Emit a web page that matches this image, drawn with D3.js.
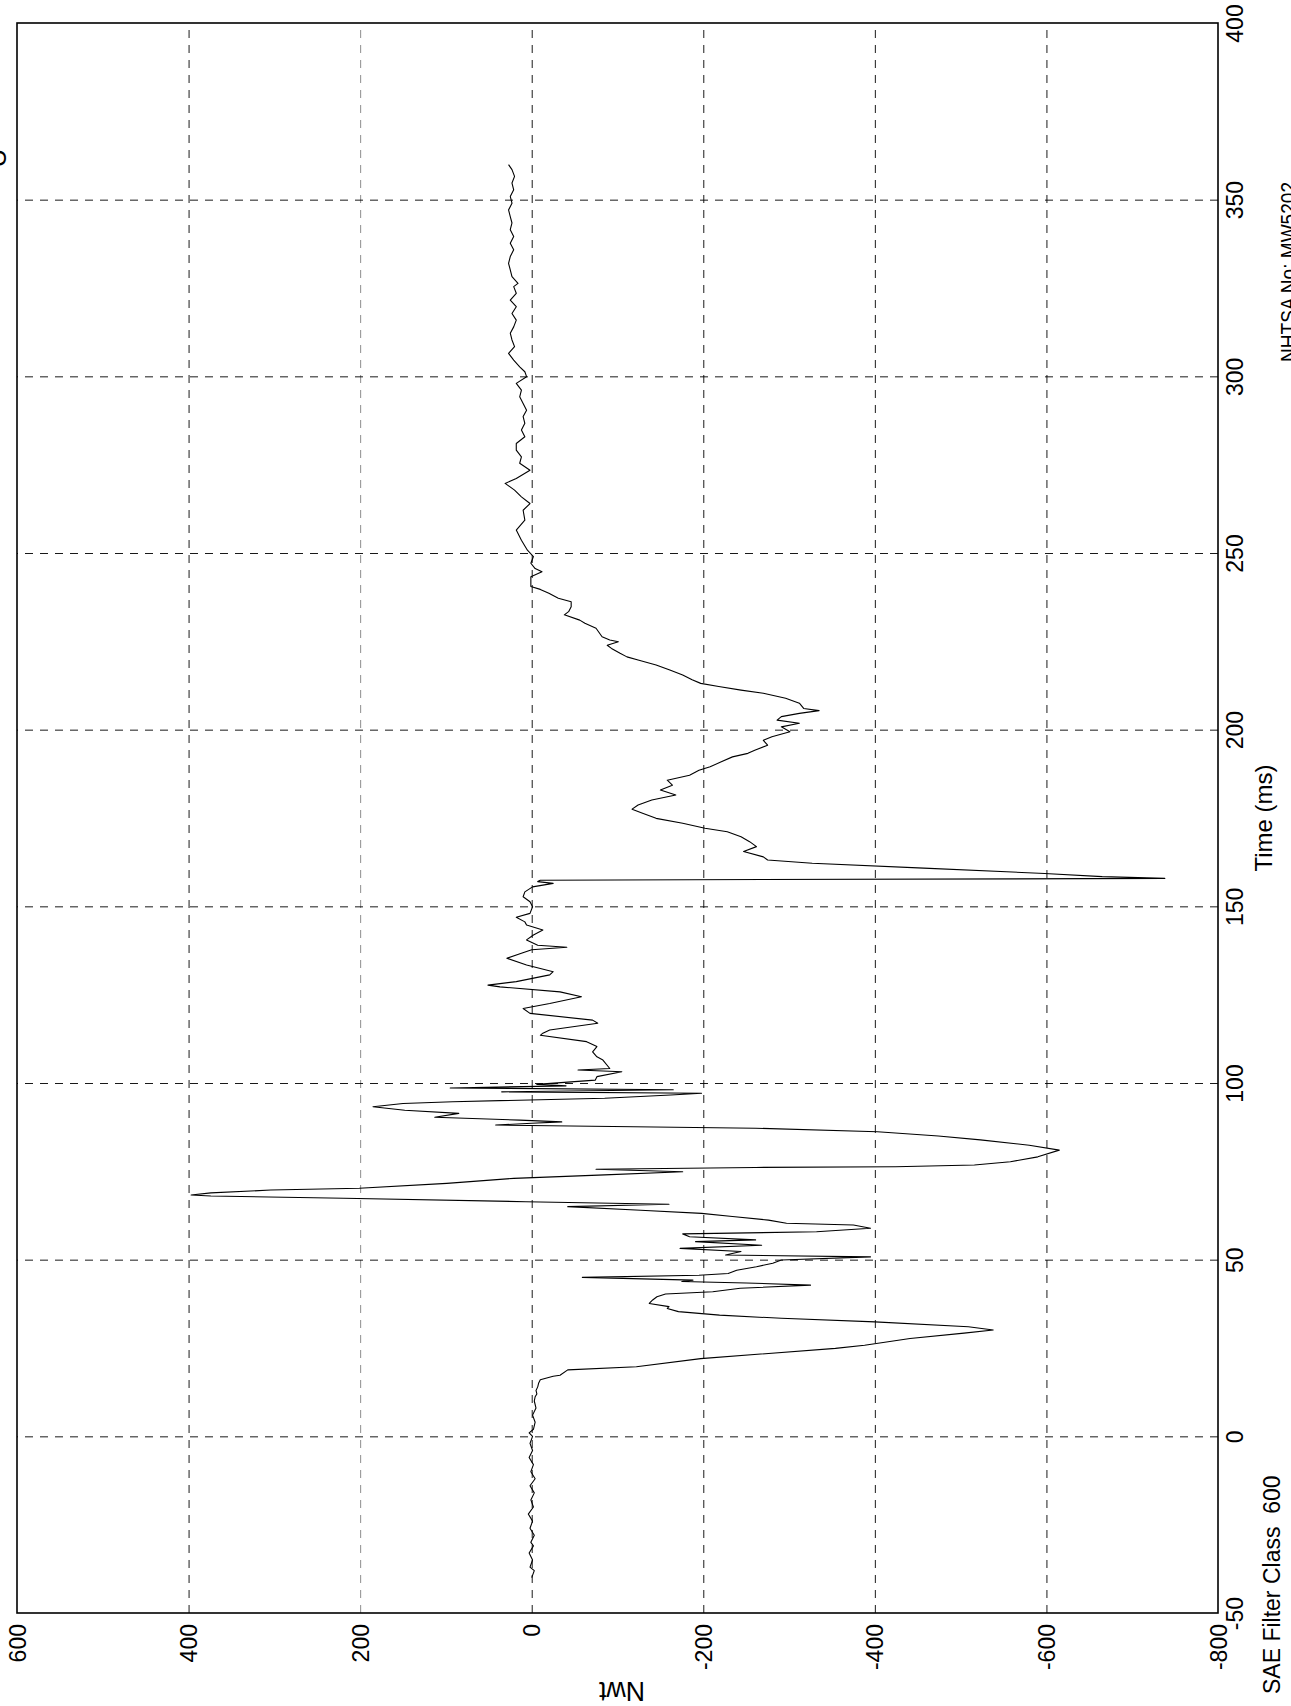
<!DOCTYPE html>
<html>
<head>
<meta charset="utf-8">
<script src="https://cdn.jsdelivr.net/npm/d3@7"></script>
<style>
  html, body { margin: 0; padding: 0; background: #fff; }
  svg { display: block; }
  text { font-family: "Liberation Sans", Arial, Helvetica, sans-serif; fill: #000; }
</style>
</head>
<body>
<svg id="chart" width="1291" height="1706"></svg>
<script>
// ---- data ----
const timeTicks = [-50, 0, 50, 100, 150, 200, 250, 300, 350, 400];
const nwtTicks = [600, 400, 200, 0, -200, -400, -600, -800];

const timeMs = [
  -40, -38, -37, -35, -33, -31, -30, -28, -26, -24, -22, -20, -18, -16, -14, -12, -10, -8, -6, -4, -2, 0, 1, 2, 4, 6, 8, 10, 11.2, 12,
  13, 14, 15, 16, 17, 17.3, 18.8, 19.7, 22, 24.9, 25.8, 27.7, 29.2, 30.1, 31, 32.4, 33.4, 34.3, 35.3, 36.2, 36.7, 37.6, 38.6, 39.5, 40.3, 40.9, 41.9, 42.8, 43.4, 43.8, 44.2, 45, 45.6, 46.1, 47, 48, 49, 49.9,
  50.8, 51.3, 52.3, 53.2, 54.1, 55.1, 55.6, 56.5, 57.3, 57.9, 58.9, 59.8, 60.3, 61.2, 62.2, 63.1, 64, 65, 65.7, 66.4, 67.4, 68, 68.3, 68.9, 69.7, 70.2, 71.6, 73, 74, 74.9, 75.6, 76.1, 76.3, 76.8, 77.7, 79.1, 81, 82.4, 83.9, 85, 86.2, 87.2, 87.6, 88.1, 88.6, 89, 89.5, 90.3, 91.4, 92.3, 93.3, 94.2, 94.7, 95.7, 96.6, 97.1, 97.5, 98.1, 98.6, 99.2, 99.6,
  100.8, 101.8, 103.2, 103.7, 104.1, 106.5, 107.4, 108.8, 110.3, 111.7, 113.5, 114.1, 115, 116.9, 117.8, 119.7, 121.1, 122.5, 124.4, 125.8, 127.2, 127.7, 128.7, 130.6, 131.5, 133.4, 135.3, 136.7, 137.7, 138.4, 139, 140.5, 141.9, 143.3, 144.7, 145.6, 146.9, 148, 149.9,
  151.3, 152.7, 154.1, 155.5, 156.5, 157, 157.4, 157.9, 158.4, 159.3, 160.8, 162.2, 163.1, 164, 165.5, 166.9, 168.3, 169.7, 171.1, 172.1, 173.5, 174.9, 176.3, 177.5, 178.7, 180.1, 181.5, 182.9, 184.3, 185.7, 187.1, 188.5, 189.5, 190.9, 192.3, 193.3, 194.2, 195.6, 197, 198, 199.4,
  200.8, 201.8, 202.7, 203.7, 204.6, 205.4, 206, 207.5, 208.9, 210.3, 211.2, 212.2, 213.1, 214.1, 215.5, 216.9, 218.3, 219.7, 220.6, 221.6, 223, 223.9, 224.9, 225.4, 226.3, 228.7, 230.1, 231, 232.5, 233.4, 234.8, 236.2, 237.2, 238.6, 239.7, 240.5, 241.9, 243.3, 244.7, 245.6, 247.1, 249,
  250.8, 253.6, 256.5, 259.3, 262.1, 264, 265.9, 267.8, 269.7, 271.1, 273.4, 275.4, 277.2, 279.1, 281, 282.9, 284.8, 286.7, 288.6, 290.4, 292.3, 294.2, 296.1, 298, 299.9,
  301.3, 302.7, 304.6, 306.5, 308.4, 310.3, 312.2, 314, 315.9, 317.8, 319.7, 321.6, 323.5, 325.4, 326.3, 328.2, 330.1, 332, 333.9, 335.8, 337.7, 339.6, 341.5, 343.4, 345.2, 347.1, 349, 350.9, 352.8, 354.7, 356.6, 358.5, 359.9
];

const forceNwt = [
  0, -3, 2, -1, 3, -2, 1, -3, 2, -1, 4, -2, 1, -3, 2, -4, 1, -2, 3, -1, 2, -1, 3, -2, -4, -1, -5, -3, -4, -6,
  -5, -7, -8, -10, -25, -33, -42, -122, -197, -354, -388, -441, -504, -538, -509, -400, -291, -219, -171, -158, -160, -137, -141, -146, -156, -211, -243, -325, -250, -175, -188, -59, -195, -229, -239, -262, -281, -291,
  -395, -226, -244, -173, -268, -191, -261, -184, -176, -332, -395, -375, -297, -276, -234, -198, -127, -42, -160, 7, 219, 374, 397, 374, 304, 201, 99, 21, -85, -176, -75, -261, -424, -516, -558, -590, -615, -580, -523, -474, -403, -261, -119, 42, 0, -35, 14, 113, 85, 148, 185, 150, 92, -85, -162, -198, 35, -165, 95, -40, -6,
  -74, -76, -105, -54, -91, -83, -76, -71, -76, -64, -10, -13, -21, -77, -71, 2, 10, -21, -58, -33, 37, 51, 18, -21, -25, 6, 29, 12, 0, -41, -7, 6, -2, -13, 6, 8, 18, 2, -1,
  2, 10, 8, -1, -25, -7, -10, -738, -665, -598, -457, -327, -275, -270, -247, -262, -254, -244, -228, -202, -176, -145, -130, -117, -124, -140, -168, -150, -164, -158, -184, -195, -208, -221, -234, -252, -260, -275, -270, -280, -301,
  -291, -312, -286, -291, -312, -335, -317, -312, -296, -270, -244, -218, -197, -187, -176, -161, -145, -124, -111, -103, -93, -88, -101, -91, -82, -75, -62, -56, -38, -43, -46, -46, -31, -20, -10, 1, 1, 1, -12, -4, 1, -2,
  5, 12, 18, 8, 10, 2, 12, 20, 31, 18, 2, 14, 12, 18, 18, 8, 12, 8, 10, 6, 10, 14, 12, 18, 6,
  8, 14, 21, 27, 20, 23, 25, 21, 18, 23, 18, 25, 18, 21, 16, 23, 25, 27, 25, 21, 25, 21, 25, 23, 25, 27, 23, 25, 21, 23, 20, 23, 27
];

// ---- layout ----
const svg = d3.select("#chart");
const pL = 17, pR = 1218, pT = 23, pB = 1613;

const x = d3.scaleLinear().domain([600, -800]).range([pL, pR]); // Nwt (horizontal)
const y = d3.scaleLinear().domain([-50, 400]).range([pB, pT]); // Time (vertical)

// gridlines
const gridV = svg.append("g")
  .attr("transform", `translate(0,${pB})`)
  .call(d3.axisBottom(x).tickValues(nwtTicks).tickSize(-(pB - pT)).tickFormat(""));
gridV.select(".domain").remove();
gridV.selectAll(".tick line")
  .attr("stroke", "#000").attr("stroke-width", 1).attr("stroke-dasharray", "8,7")
  .attr("opacity", (d) => (d === 600 || d === -800) ? 0 : (d === 200 ? 0.45 : 0.9));

const gridH = svg.append("g")
  .attr("transform", `translate(${pR},0)`)
  .call(d3.axisRight(y).tickValues(timeTicks).tickSize(-(pR - pL)).tickFormat(""));
gridH.select(".domain").remove();
gridH.selectAll(".tick line")
  .attr("stroke", "#000").attr("stroke-width", 1).attr("stroke-dasharray", "8,7")
  .attr("opacity", (d) => (d === -50 || d === 400) ? 0 : 0.9);

// frame
svg.append("rect")
  .attr("x", pL).attr("y", pT)
  .attr("width", pR - pL).attr("height", pB - pT)
  .attr("fill", "none").attr("stroke", "#000").attr("stroke-width", 1.6);

// data line
const pts = timeMs.map((t, i) => [t, forceNwt[i]]);
svg.append("path")
  .datum(pts)
  .attr("fill", "none")
  .attr("stroke", "#000")
  .attr("stroke-width", 1.1)
  .attr("stroke-linejoin", "round")
  .attr("d", d3.line().x(d => x(d[1])).y(d => y(d[0])));

// Nwt tick labels (bottom, rotated)
const axB = svg.append("g")
  .attr("transform", `translate(0,${pB})`)
  .call(d3.axisBottom(x).tickValues(nwtTicks).tickSize(0).tickFormat(d => String(d)));
axB.select(".domain").remove();
axB.selectAll(".tick text")
  .attr("transform", "rotate(-90)")
  .attr("x", -11).attr("y", 8).attr("dy", 0)
  .attr("text-anchor", "end")
  .style("font-size", "23px")
  .style("font-family", '"Liberation Sans", Arial, sans-serif');

// Time tick labels (right, rotated)
const axR = svg.append("g")
  .attr("transform", `translate(${pR},0)`)
  .call(d3.axisRight(y).tickValues(timeTicks).tickSize(0).tickFormat(d => String(d)));
axR.select(".domain").remove();
axR.selectAll(".tick text")
  .attr("transform", "rotate(-90)")
  .attr("x", 0).attr("y", 25).attr("dy", 0)
  .attr("text-anchor", "middle")
  .style("font-size", "23px")
  .style("font-family", '"Liberation Sans", Arial, sans-serif');

// axis titles and notes
svg.append("text")
  .attr("transform", "translate(622,1682) rotate(180)")
  .attr("text-anchor", "middle")
  .attr("textLength", 46).attr("lengthAdjust", "spacingAndGlyphs")
  .style("font-size", "28px")
  .text("Nwt");

svg.append("text")
  .attr("transform", `translate(1272,${(pT + pB) / 2}) rotate(-90)`)
  .attr("text-anchor", "middle")
  .style("font-size", "24px")
  .text("Time (ms)");

svg.append("text")
  .attr("transform", "translate(1280,1694) rotate(-90)")
  .attr("text-anchor", "start")
  .attr("xml:space", "preserve")
  .style("white-space", "pre")
  .style("font-size", "23px")
  .text("SAE Filter Class  600");

svg.append("text")
  .attr("transform", "translate(1296,362) rotate(-90)")
  .attr("text-anchor", "start")
  .attr("textLength", 180).attr("lengthAdjust", "spacingAndGlyphs")
  .style("font-size", "22px")
  .text("NHTSA No: MW5202");

svg.append("text")
  .attr("transform", "translate(6,158) rotate(-90)")
  .attr("text-anchor", "middle")
  .style("font-size", "26px")
  .text("U");
</script>
</body>
</html>
